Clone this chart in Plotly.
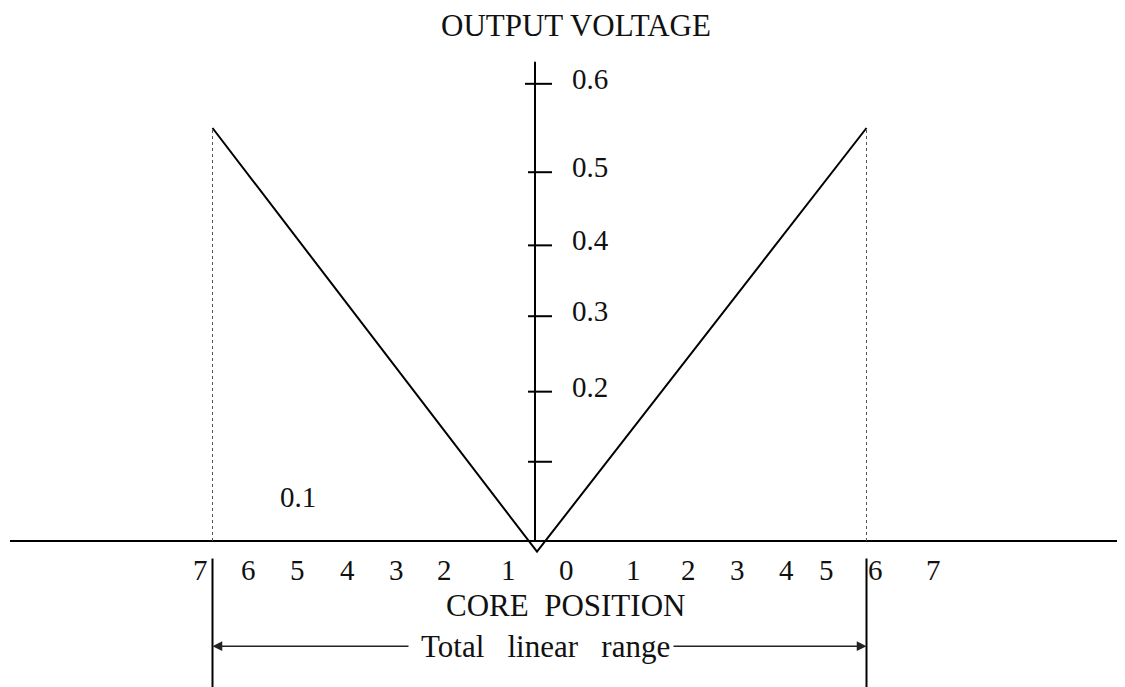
import plotly.graph_objects as go

# ---- data ----
# V-shaped output of an LVDT (core position in divisions, output in volts)
core_position = [-6.49, 0.0, 6.59]
output_voltage = [0.542, -0.014, 0.542]

# y-axis tick marks (height where each tick is drawn) and their labels
ytick_values = [0.104, 0.196, 0.295, 0.388, 0.484, 0.600]
ytick_labels = ["", "0.2", "0.3", "0.4", "0.5", "0.6"]

# core-position labels under the axis (position, text)
xlabel_positions = [-6.74, -5.78, -4.80, -3.80, -2.82, -1.86, -0.58,
                    0.58, 1.92, 3.02, 4.00, 4.98, 5.78, 6.76, 7.92]
xlabel_texts = ["7", "6", "5", "4", "3", "2", "1",
                "0", "1", "2", "3", "4", "5", "6", "7"]

# stray "0.1" label
stray_label = {"x": -4.78, "y": 0.058, "text": "0.1"}

title_text = "OUTPUT VOLTAGE"
xaxis_text = "CORE\u00a0\u00a0POSITION"
range_text = "Total\u00a0\u00a0\u00a0linear\u00a0\u00a0\u00a0range"

# ---- figure ----
FAMILY = "Liberation Serif, Times New Roman, serif"
FONT = dict(family=FAMILY, size=29, color="#111111")
FONT_BIG = dict(family=FAMILY, size=31, color="#111111")
X_RANGE = [-10.58, 11.92]
Y_RANGE = [-0.2021, 0.6995]
x_left, x_right = core_position[0], core_position[-1]
y_top = output_voltage[0]

fig = go.Figure()
fig.add_trace(go.Scatter(x=core_position, y=output_voltage, mode="lines",
                         line=dict(color="black", width=2), hoverinfo="skip",
                         showlegend=False))

shapes = []
# horizontal axis
shapes.append(dict(type="line", x0=-10.54, x1=X_RANGE[1], y0=0, y1=0,
                   line=dict(color="black", width=2)))
# vertical axis
shapes.append(dict(type="line", x0=-0.04, x1=-0.04, y0=0, y1=0.629,
                   line=dict(color="black", width=2)))
# y tick marks
for i, v in enumerate(ytick_values):
    left = -0.24 if i == len(ytick_values) - 1 else -0.18
    shapes.append(dict(type="line", x0=left, x1=0.30, y0=v, y1=v,
                       line=dict(color="black", width=2)))
# dotted drop lines at the ends of the linear range
for xv in (x_left, x_right):
    shapes.append(dict(type="line", x0=xv, x1=xv, y0=0, y1=y_top,
                       line=dict(color="#555555", width=1, dash="dot")))
    shapes.append(dict(type="line", x0=xv, x1=xv, y0=-0.023, y1=Y_RANGE[0],
                       line=dict(color="black", width=2)))

annotations = []
for v, t in zip(ytick_values, ytick_labels):
    if t:
        annotations.append(dict(x=0.66, y=v, text=t, showarrow=False, xanchor="left",
                                yanchor="middle", yshift=5, font=FONT))
for xv, t in zip(xlabel_positions, xlabel_texts):
    annotations.append(dict(x=xv, y=-0.038, text=t, showarrow=False, xanchor="center",
                            yanchor="middle", font=FONT))
annotations.append(dict(x=stray_label["x"], y=stray_label["y"], text=stray_label["text"],
                        showarrow=False, font=FONT))
annotations.append(dict(x=0.78, y=0.677, text=title_text, showarrow=False,
                        borderpad=0, font=FONT_BIG))
annotations.append(dict(x=0.56, y=-0.085, text=xaxis_text, showarrow=False, font=FONT_BIG))
annotations.append(dict(x=0.16, y=-0.138, text=range_text, showarrow=False, font=FONT_BIG))
# arrows of the total linear range
annotations.append(dict(x=x_left, y=-0.138, ax=-2.54, ay=-0.138, axref="x", ayref="y",
                        xref="x", yref="y", text="", showarrow=True, arrowhead=2,
                        arrowsize=1.3, arrowwidth=1.5, arrowcolor="#222222"))
annotations.append(dict(x=x_right, y=-0.138, ax=2.70, ay=-0.138, axref="x", ayref="y",
                        xref="x", yref="y", text="", showarrow=True, arrowhead=2,
                        arrowsize=1.3, arrowwidth=1.5, arrowcolor="#222222"))

fig.update_layout(
    width=1125, height=687,
    margin=dict(l=0, r=0, t=0, b=0),
    paper_bgcolor="white", plot_bgcolor="white",
    xaxis=dict(range=X_RANGE, visible=False, fixedrange=True),
    yaxis=dict(range=Y_RANGE, visible=False, fixedrange=True),
    shapes=shapes, annotations=annotations,
    showlegend=False,
)

fig.write_html("out.html")
